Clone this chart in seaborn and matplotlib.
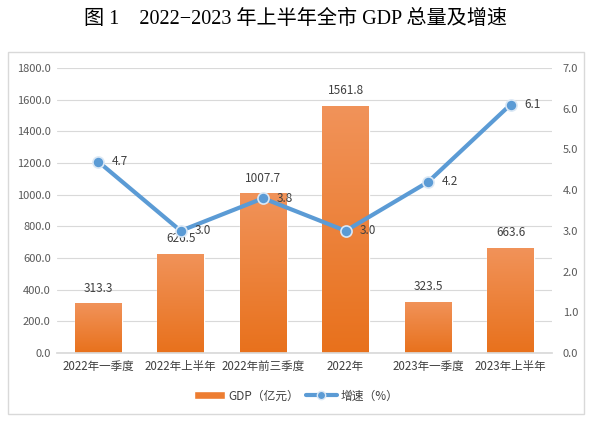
import numpy as np
import pandas as pd
import seaborn as sns
import matplotlib.pyplot as plt
from matplotlib.patches import Rectangle
from matplotlib.lines import Line2D
from matplotlib.colors import LinearSegmentedColormap

periods = ["2022年一季度", "2022年上半年", "2022年前三季度", "2022年", "2023年一季度", "2023年上半年"]
gdp = [313.3, 626.5, 1007.7, 1561.8, 323.5, 663.6]
growth = [4.7, 3.0, 3.8, 3.0, 4.2, 6.1]

sns.set_theme(style="white")
plt.rcParams['font.family'] = ['Noto Sans CJK SC', 'DejaVu Sans']

df = pd.DataFrame({"period": periods, "gdp": gdp, "growth": growth})

fig = plt.figure(figsize=(5.92, 4.22), dpi=100)
ax = fig.add_axes([0.0963, 0.1635, 0.8357, 0.6755])

# outer frame
fig.patches.append(Rectangle((8 / 592, 8 / 422), 576 / 592, 362 / 422, transform=fig.transFigure,
                             fill=False, edgecolor="#d9d9d9", linewidth=1))

sns.barplot(data=df, x="period", y="gdp", color="#ED7D31", width=0.57, ax=ax, zorder=2)
ax.set_ylim(0, 1800)
ax.set_xlim(-0.5, len(periods) - 0.5)

# gradient fill on bars
grad = LinearSegmentedColormap.from_list("g", ["#E8711C", "#F1935A"])
gimg = np.linspace(0, 1, 256).reshape(-1, 1)
for p in ax.patches:
    x0, w, h = p.get_x(), p.get_width(), p.get_height()
    im = ax.imshow(gimg, cmap=grad, origin="lower", aspect="auto",
                   extent=[x0, x0 + w, 0, h], zorder=2.1)
    im.set_clip_path(p)
    ax.text(x0 + w / 2, h + 55, f"{h:.1f}", ha="center", va="bottom",
            fontsize=8.5, color="#404040", zorder=5)

ax.set_yticks(np.arange(0, 1801, 200))
ax.set_yticklabels([f"{v:.1f}" for v in np.arange(0, 1801, 200)])
ax.yaxis.grid(True, color="#d9d9d9", linewidth=0.8)
ax.set_axisbelow(True)
for s in ["top", "right", "left"]:
    ax.spines[s].set_visible(False)
ax.spines["bottom"].set_color("#d9d9d9")
ax.tick_params(axis="x", length=0, labelsize=8.3, labelcolor="#404040", pad=5)
ax.tick_params(axis="y", length=0, labelsize=8, labelcolor="#595959", pad=4.5)
ax.set_xticks(np.arange(len(periods) + 1) - 0.5, minor=True)
ax.tick_params(axis="x", which="minor", length=4, color="#d9d9d9")
ax.set_xlabel("")
ax.set_ylabel("")

ax2 = ax.twinx()
sns.lineplot(data=df, x="period", y="growth", ax=ax2, color="#5B9BD5", linewidth=3,
             marker="o", markersize=8, markeredgecolor="#dbe8f5", markeredgewidth=1.2,
             sort=False, zorder=4)
ax2.set_ylim(0, 7)
ax2.set_yticks(np.arange(0, 8, 1))
ax2.set_yticklabels([f"{v:.1f}" for v in np.arange(0, 8, 1)])
ax2.tick_params(axis="y", length=0, labelsize=8, labelcolor="#595959", pad=8)
for s in ax2.spines.values():
    s.set_visible(False)
ax2.set_xlabel("")
ax2.set_ylabel("")
for i, g in enumerate(growth):
    ax2.annotate(f"{g:.1f}", (i, g), xytext=(10, 0), textcoords="offset points",
                 ha="left", va="center", fontsize=8.5, color="#404040", zorder=6)

handles = [Rectangle((0, 0), 1, 1, facecolor="#ED7D31"),
           Line2D([], [], color="#5B9BD5", linewidth=3, marker="o", markersize=6,
                  markeredgecolor="#dbe8f5")]
fig.legend(handles, ["GDP（亿元）", "增速（%）"], loc="center", bbox_to_anchor=(0.5, 0.062),
           ncol=2, frameon=False, fontsize=8.5, handlelength=2.6, columnspacing=0.6,
           handletextpad=0.3, labelcolor="#404040")

fig.text(0.5, 0.955, "图 1　2022−2023 年上半年全市 GDP 总量及增速", ha="center", va="center",
         fontsize=14.5, fontweight="light", color="#000000",
         family=["Liberation Serif", "Noto Sans CJK SC"])

fig.savefig("out.png", dpi=100)
